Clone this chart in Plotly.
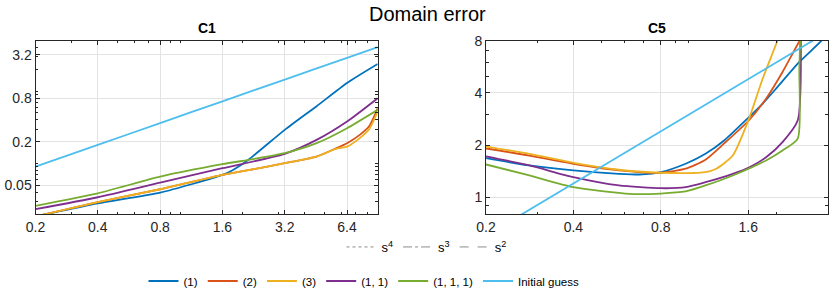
import math
import plotly.graph_objects as go

# ---------------- data ----------------
series_names = ["(1)", "(2)", "(3)", "(1, 1)", "(1, 1, 1)", "Initial guess"]
series_colors = ["#0072BD", "#D95319", "#EDB120", "#7E2F8E", "#77AC30", "#4DBEEE"]

# Panel C1
c1_x_1 = [0.2, 0.4, 0.8, 1.6, 1.8, 2.13, 3.2, 4.56, 6.4, 9]
c1_y_1 = [0.0185, 0.028, 0.0395, 0.0694, 0.0815, 0.112, 0.292, 0.62, 1.30, 2.38]
c1_x_2 = [0.2, 0.4, 0.8, 1.6, 2.17, 3.2, 4.56, 5.69, 6.4, 7.37, 8.2, 9]
c1_y_2 = [0.0185, 0.0293, 0.044, 0.0694, 0.0815, 0.101, 0.1246, 0.163, 0.191, 0.249, 0.33, 0.584]
c1_x_3 = [0.2, 0.4, 0.8, 1.6, 2.17, 3.2, 4.56, 5.69, 6.4, 7.37, 8.2, 9]
c1_y_3 = [0.0185, 0.0293, 0.044, 0.0694, 0.0815, 0.101, 0.1246, 0.160, 0.171, 0.224, 0.30, 0.524]
c1_x_11 = [0.2, 0.4, 0.8, 1.6, 3.2, 4.56, 6.4, 9]
c1_y_11 = [0.0233, 0.0341, 0.0543, 0.086, 0.136, 0.212, 0.381, 0.80]
c1_x_111 = [0.2, 0.4, 0.8, 1.6, 2.25, 3.2, 4.56, 6.4, 9]
c1_y_111 = [0.026, 0.0387, 0.0658, 0.0977, 0.115, 0.139, 0.191, 0.308, 0.553]
c1_x_init = [0.2, 0.4, 0.8, 1.6, 3.2, 6.4, 9]
c1_y_init = [0.0906, 0.181, 0.362, 0.725, 1.45, 2.9, 4.08]

# Panel C5
c5_x_1 = [0.2, 0.282, 0.4, 0.574, 0.691, 0.8, 0.974, 1.14, 1.325, 1.61, 1.795, 1.995, 2.4, 2.85, 3.0]
c5_y_1 = [1.68, 1.525, 1.427, 1.365, 1.353, 1.395, 1.56, 1.78, 2.13, 2.90, 3.47, 4.23, 6.03, 7.95, 8.9]
c5_x_2 = [0.2, 0.282, 0.4, 0.574, 0.8, 0.974, 1.14, 1.325, 1.61, 1.86, 2.1, 2.41, 2.6]
c5_y_2 = [1.91, 1.74, 1.56, 1.43, 1.384, 1.46, 1.645, 2.05, 2.78, 3.79, 5.28, 8.05, 10]
c5_x_3 = [0.2, 0.282, 0.4, 0.574, 0.8, 0.974, 1.14, 1.241, 1.415, 1.61, 1.795, 2.02, 2.2]
c5_y_3 = [1.96, 1.78, 1.58, 1.44, 1.384, 1.376, 1.395, 1.46, 1.74, 2.84, 4.84, 8.05, 12]
c5_x_11 = [0.2, 0.282, 0.4, 0.574, 0.8, 0.974, 1.14, 1.415, 1.616, 1.843, 2.1, 2.37, 2.42]
c5_y_11 = [1.72, 1.525, 1.305, 1.169, 1.127, 1.142, 1.221, 1.365, 1.49, 1.70, 2.08, 2.78, 12]
c5_x_111 = [0.2, 0.282, 0.4, 0.625, 0.8, 0.974, 1.14, 1.415, 1.843, 2.1, 2.37, 2.40, 2.43]
c5_y_111 = [1.545, 1.335, 1.142, 1.046, 1.05, 1.079, 1.169, 1.335, 1.63, 1.86, 2.18, 5.52, 12]
c5_x_init = [0.2, 3.0]
c5_y_init = [0.6, 9.0]

# axis ticks
c1_xticks = [0.2, 0.4, 0.8, 1.6, 3.2, 6.4]
c1_xticklabels = ["0.2", "0.4", "0.8", "1.6", "3.2", "6.4"]
c1_yticks = [0.05, 0.2, 0.8, 3.2]
c1_yticklabels = ["0.05", "0.2", "0.8", "3.2"]
c5_xticks = [0.2, 0.4, 0.8, 1.6]
c5_xticklabels = ["0.2", "0.4", "0.8", "1.6"]
c5_yticks = [1, 2, 4, 8]
c5_yticklabels = ["1", "2", "4", "8"]

c1_xminor = [0.3, 0.5, 0.6, 0.7, 0.9, 1, 2, 3, 4, 5, 6, 7, 8, 9]
c1_yminor = [0.02, 0.03, 0.04, 0.06, 0.07, 0.08, 0.09, 0.1, 0.3, 0.4, 0.5, 0.6, 0.7, 0.9, 1, 2, 3, 4, 5]
c5_xminor = [0.3, 0.5, 0.6, 0.7, 0.9, 1, 2, 3]
c5_yminor = [0.8, 0.9, 3, 5, 6, 7]

style_names = ["s<sup>4</sup>", "s<sup>3</sup>", "s<sup>2</sup>"]
style_dashes = ["dot", "dashdot", "dash"]

# ---------------- figure ----------------
W, H = 830, 290
FONT = "Liberation Sans, Arial, Helvetica, sans-serif"
AX = "#262626"
GRID = "#e3e3e3"

fig = go.Figure()

c1 = [(c1_x_1, c1_y_1), (c1_x_2, c1_y_2), (c1_x_3, c1_y_3),
      (c1_x_11, c1_y_11), (c1_x_111, c1_y_111), (c1_x_init, c1_y_init)]
c5 = [(c5_x_1, c5_y_1), (c5_x_2, c5_y_2), (c5_x_3, c5_y_3),
      (c5_x_11, c5_y_11), (c5_x_111, c5_y_111), (c5_x_init, c5_y_init)]

for i, (x, y) in enumerate(c1):
    fig.add_trace(go.Scatter(x=x, y=y, mode="lines", name=series_names[i],
                             line=dict(color=series_colors[i], width=1.8, shape="spline", smoothing=0.6),
                             xaxis="x", yaxis="y", legend="legend", showlegend=True))
for i, (x, y) in enumerate(c5):
    fig.add_trace(go.Scatter(x=x, y=y, mode="lines", name=series_names[i],
                             line=dict(color=series_colors[i], width=1.8, shape="spline", smoothing=0.6),
                             xaxis="x2", yaxis="y2", showlegend=False))
for n, d in zip(style_names, style_dashes):
    fig.add_trace(go.Scatter(x=[None], y=[None], mode="lines", name=n,
                             line=dict(color="#8c8c8c", width=1, dash=d),
                             xaxis="x", yaxis="y", legend="legend2", showlegend=True))


def px_x(p):
    return p / W


def px_y(p):
    return 1 - p / H


def axis(domain, rng, ticks, labels, minor, anchor):
    return dict(type="log", domain=domain, range=[math.log10(rng[0]), math.log10(rng[1])],
                tickmode="array", tickvals=ticks, ticktext=labels,
                showline=True, linecolor=AX, linewidth=1, mirror="allticks",
                ticks="inside", ticklen=4, tickwidth=1, tickcolor=AX,
                showgrid=True, gridcolor=GRID, gridwidth=1, zeroline=False,
                tickfont=dict(family=FONT, size=14, color=AX),
                minor=dict(tickmode="array", tickvals=minor, ticks="inside", ticklen=2.5,
                           tickcolor=AX, showgrid=False),
                automargin=False, anchor=anchor, fixedrange=True)


fig.update_layout(
    width=W, height=H, margin=dict(l=0, r=0, t=0, b=0, autoexpand=False),
    paper_bgcolor="white", plot_bgcolor="white",
    font=dict(family=FONT, color=AX),
    hovermode=False,
    xaxis=axis([px_x(35.5), px_x(377.7)], (0.2, 9), c1_xticks, c1_xticklabels, c1_xminor, "y"),
    yaxis=axis([px_y(214), px_y(40.7)], (0.02, 5), c1_yticks, c1_yticklabels, c1_yminor, "x"),
    xaxis2=axis([px_x(486), px_x(827.5)], (0.2, 3), c5_xticks, c5_xticklabels, c5_xminor, "y2"),
    yaxis2=axis([px_y(214), px_y(40.7)], (0.8, 8), c5_yticks, c5_yticklabels, c5_yminor, "x2"),
    legend=dict(orientation="h", xref="container", yref="container",
                x=px_x(364), xanchor="center", y=px_y(281), yanchor="middle",
                font=dict(family=FONT, size=11.5, color="black"), bgcolor="rgba(0,0,0,0)",
                itemwidth=30),
    legend2=dict(orientation="h", xref="container", yref="container",
                 x=px_x(426.5), xanchor="center", y=px_y(247), yanchor="middle",
                 font=dict(family=FONT, size=13, color="black"), bgcolor="rgba(0,0,0,0)",
                 itemwidth=30),
    showlegend=True,
    annotations=[
        dict(text="Domain error", x=px_x(427.5), y=px_y(14), xref="paper", yref="paper",
             showarrow=False, font=dict(family=FONT, size=20, color="black"),
             xanchor="center", yanchor="middle"),
        dict(text="<b>C1</b>", x=px_x(206.6), y=px_y(28), xref="paper", yref="paper",
             showarrow=False, font=dict(family=FONT, size=14, color="black"),
             xanchor="center", yanchor="middle"),
        dict(text="<b>C5</b>", x=px_x(656.8), y=px_y(28), xref="paper", yref="paper",
             showarrow=False, font=dict(family=FONT, size=14, color="black"),
             xanchor="center", yanchor="middle"),
    ],
)

fig.write_html("out.html", config={"displayModeBar": False, "staticPlot": True},
               post_script="document.body.style.margin='0px';document.body.style.padding='0px';")
